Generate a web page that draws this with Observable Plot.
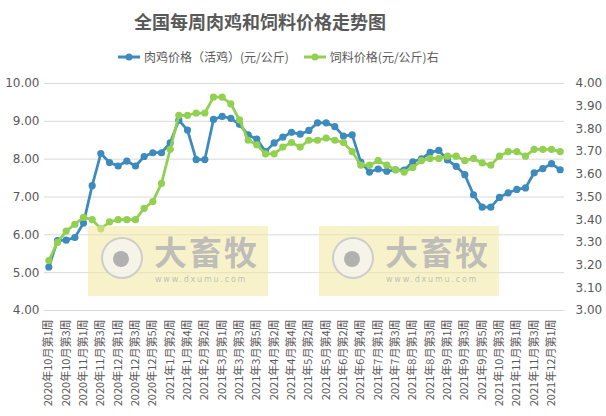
<!DOCTYPE html>
<html>
<head>
<meta charset="utf-8">
<script src="https://cdn.jsdelivr.net/npm/d3@7"></script>
<script src="https://cdn.jsdelivr.net/npm/@observablehq/plot@0.6"></script>
<style>
  html, body { margin: 0; padding: 0; background: #fff; }
  #wrap { position: relative; width: 606px; height: 416px; overflow: hidden; font-family: "Noto Sans CJK SC", "DejaVu Sans", sans-serif; color: #595959; }
  #title { position: absolute; left: 0; width: 520px; top: 8px; text-align: center; font-size: 18px; font-weight: bold; line-height: 26px; color: #595959; }
  #legend { position: absolute; left: 117px; top: 48px; font-size: 12px; line-height: 18px; display: flex; gap: 14px; }
  #legend .item { display: flex; align-items: center; gap: 3px; }
  #chart { position: absolute; left: 0; top: 75px; }
  .wm { position: absolute; background: rgba(243, 232, 160, 0.55); pointer-events: none; }
  .wm .logo { position: absolute; left: 13px; top: 11px; width: 42px; height: 42px; border-radius: 50%; border: 2px solid rgba(195,195,195,0.8); background: rgba(245,245,245,0.7); box-sizing: border-box; }
  .wm .logo::after { content: ""; position: absolute; left: 10px; top: 12px; width: 16px; height: 16px; border-radius: 50%; background: rgba(165,165,165,0.85); }
  .wm .name { position: absolute; left: 66px; top: 6px; font-size: 33px; font-weight: bold; color: rgba(180,180,180,0.85); letter-spacing: 2px; line-height: 38px; height: 38px; font-family: "Noto Sans CJK SC", sans-serif; }
  .wm .url { position: absolute; left: 67px; top: 49px; font-size: 8px; line-height: 10px; color: rgba(180,180,180,0.85); letter-spacing: 1.8px; font-family: "DejaVu Sans", sans-serif; }
</style>
</head>
<body>
<div id="wrap">
  <div id="title"></div>
  <div id="legend"></div>
  <div id="chart"></div>
</div>
<script>
const weeks = [
  "2020年10月第1周","2020年10月第2周","2020年10月第3周","2020年10月第4周",
  "2020年11月第1周","2020年11月第2周","2020年11月第3周","2020年11月第4周",
  "2020年12月第1周","2020年12月第2周","2020年12月第3周","2020年12月第4周",
  "2020年12月第5周","2021年1月第1周","2021年1月第2周","2021年1月第3周",
  "2021年1月第4周","2021年2月第1周","2021年2月第2周","2021年2月第4周",
  "2021年3月第1周","2021年3月第2周","2021年3月第3周","2021年3月第4周",
  "2021年3月第5周","2021年4月第1周","2021年4月第2周","2021年4月第3周",
  "2021年4月第4周","2021年5月第1周","2021年5月第2周","2021年5月第3周",
  "2021年5月第4周","2021年6月第1周","2021年6月第2周","2021年6月第3周",
  "2021年6月第4周","2021年6月第5周","2021年7月第1周","2021年7月第2周",
  "2021年7月第3周","2021年7月第4周","2021年8月第1周","2021年8月第2周",
  "2021年8月第3周","2021年8月第4周","2021年9月第1周","2021年9月第2周",
  "2021年9月第3周","2021年9月第4周","2021年9月第5周","2021年10月第2周",
  "2021年10月第3周","2021年10月第4周","2021年11月第1周","2021年11月第2周",
  "2021年11月第3周","2021年11月第4周","2021年12月第1周","2021年12月第2周"
];
const chicken = [
  5.15, 5.85, 5.86, 5.93, 6.31, 7.30, 8.15, 7.91, 7.82, 7.95,
  7.82, 8.07, 8.17, 8.17, 8.43, 9.03, 8.77, 7.99, 7.99, 9.05,
  9.13, 9.08, 8.92, 8.64, 8.53, 8.20, 8.43, 8.58, 8.71, 8.66,
  8.76, 8.96, 8.96, 8.86, 8.61, 8.64, 7.92, 7.66, 7.74, 7.68,
  7.72, 7.71, 7.93, 8.01, 8.18, 8.23, 7.98, 7.81, 7.59, 7.06,
  6.73, 6.73, 6.99, 7.11, 7.20, 7.24, 7.64, 7.75, 7.88, 7.72
];
const feed = [
  3.22, 3.30, 3.35, 3.38, 3.41, 3.40, 3.36, 3.39, 3.40, 3.40,
  3.40, 3.45, 3.48, 3.56, 3.71, 3.86, 3.86, 3.87, 3.87, 3.94,
  3.94, 3.91, 3.84, 3.75, 3.73, 3.69, 3.69, 3.72, 3.74, 3.72,
  3.75, 3.75, 3.76, 3.75, 3.74, 3.70, 3.64, 3.64, 3.66, 3.64,
  3.62, 3.61, 3.63, 3.66, 3.67, 3.67, 3.68, 3.68, 3.66, 3.67,
  3.65, 3.64, 3.68, 3.70, 3.70, 3.68, 3.71, 3.71, 3.71, 3.70
];
const seriesNames = ["肉鸡价格（活鸡）(元/公斤)", "饲料价格(元/公斤)右"];
const seriesColors = ["#3d8bbd", "#92d050"];
const leftTicks = [4, 5, 6, 7, 8, 9, 10];
const rightTicks = [3.0, 3.1, 3.2, 3.3, 3.4, 3.5, 3.6, 3.7, 3.8, 3.9, 4.0];
const chartTitle = "全国每周肉鸡和饲料价格走势图";

// right axis [3,4] mapped onto left axis [4,10]
const rightToLeft = v => 4 + (v - 3) * 6;
const leftToRight = v => (v - 4) / 6 + 3;

const rows = weeks.map((w, i) => ({week: w, chicken: chicken[i], feed: feed[i], feedL: rightToLeft(feed[i])}));
const shownWeeks = weeks.filter((d, i) => i % 2 === 0);

document.getElementById("title").textContent = chartTitle;

// legend
const legend = document.getElementById("legend");
seriesNames.forEach((name, i) => {
  const item = document.createElement("div");
  item.className = "item";
  item.innerHTML = `<svg width="24" height="10"><line x1="1" y1="5" x2="23" y2="5" stroke="${seriesColors[i]}" stroke-width="3"/><circle cx="12" cy="5" r="3.5" fill="${seriesColors[i]}"/></svg><span>${name}</span>`;
  legend.appendChild(item);
});

const font = "'Noto Sans CJK SC', 'DejaVu Sans', sans-serif";

const chart = Plot.plot({
  width: 606,
  height: 335,
  marginTop: 8,
  marginBottom: 100,
  marginLeft: 44,
  marginRight: 42,
  style: {fontFamily: font, color: "#595959", background: "transparent"},
  x: {type: "point", domain: weeks, padding: 0.5},
  y: {domain: [4, 10]},
  marks: [
    Plot.gridY(leftTicks, {stroke: "#d9d9d9", strokeOpacity: 1, strokeWidth: 1}),
    Plot.axisY(leftTicks, {anchor: "left", tickSize: 0, tickPadding: 5, tickFormat: d => d.toFixed(2), label: null, fontSize: 12, fontFamily: "DejaVu Sans"}),
    Plot.axisY(rightTicks.map(rightToLeft), {anchor: "right", tickSize: 0, tickPadding: 11, tickFormat: d => leftToRight(d).toFixed(2), label: null, fontSize: 12, fontFamily: "DejaVu Sans"}),
    Plot.axisX(shownWeeks, {tickRotate: -90, tickSize: 0, tickPadding: 9, label: null, fontSize: 11}),
    Plot.line(rows, {x: "week", y: "chicken", stroke: seriesColors[0], strokeWidth: 2.75}),
    Plot.dot(rows, {x: "week", y: "chicken", fill: seriesColors[0], r: 3.6}),
    Plot.line(rows, {x: "week", y: "feedL", stroke: seriesColors[1], strokeWidth: 2.75}),
    Plot.dot(rows, {x: "week", y: "feedL", fill: seriesColors[1], r: 3.6})
  ]
});
document.getElementById("chart").appendChild(chart);

// watermarks (overlay decoration)
const wrap = document.getElementById("wrap");
[[88, 226], [319, 226]].forEach(([l, t]) => {
  const wm = document.createElement("div");
  wm.className = "wm";
  wm.style.left = l + "px";
  wm.style.top = t + "px";
  wm.style.width = "180px";
  wm.style.height = "70px";
  wm.innerHTML = `<div class="logo"></div><div class="name">大畜牧</div><div class="url">www.dxumu.com</div>`;
  wrap.appendChild(wm);
});
</script>
</body>
</html>
